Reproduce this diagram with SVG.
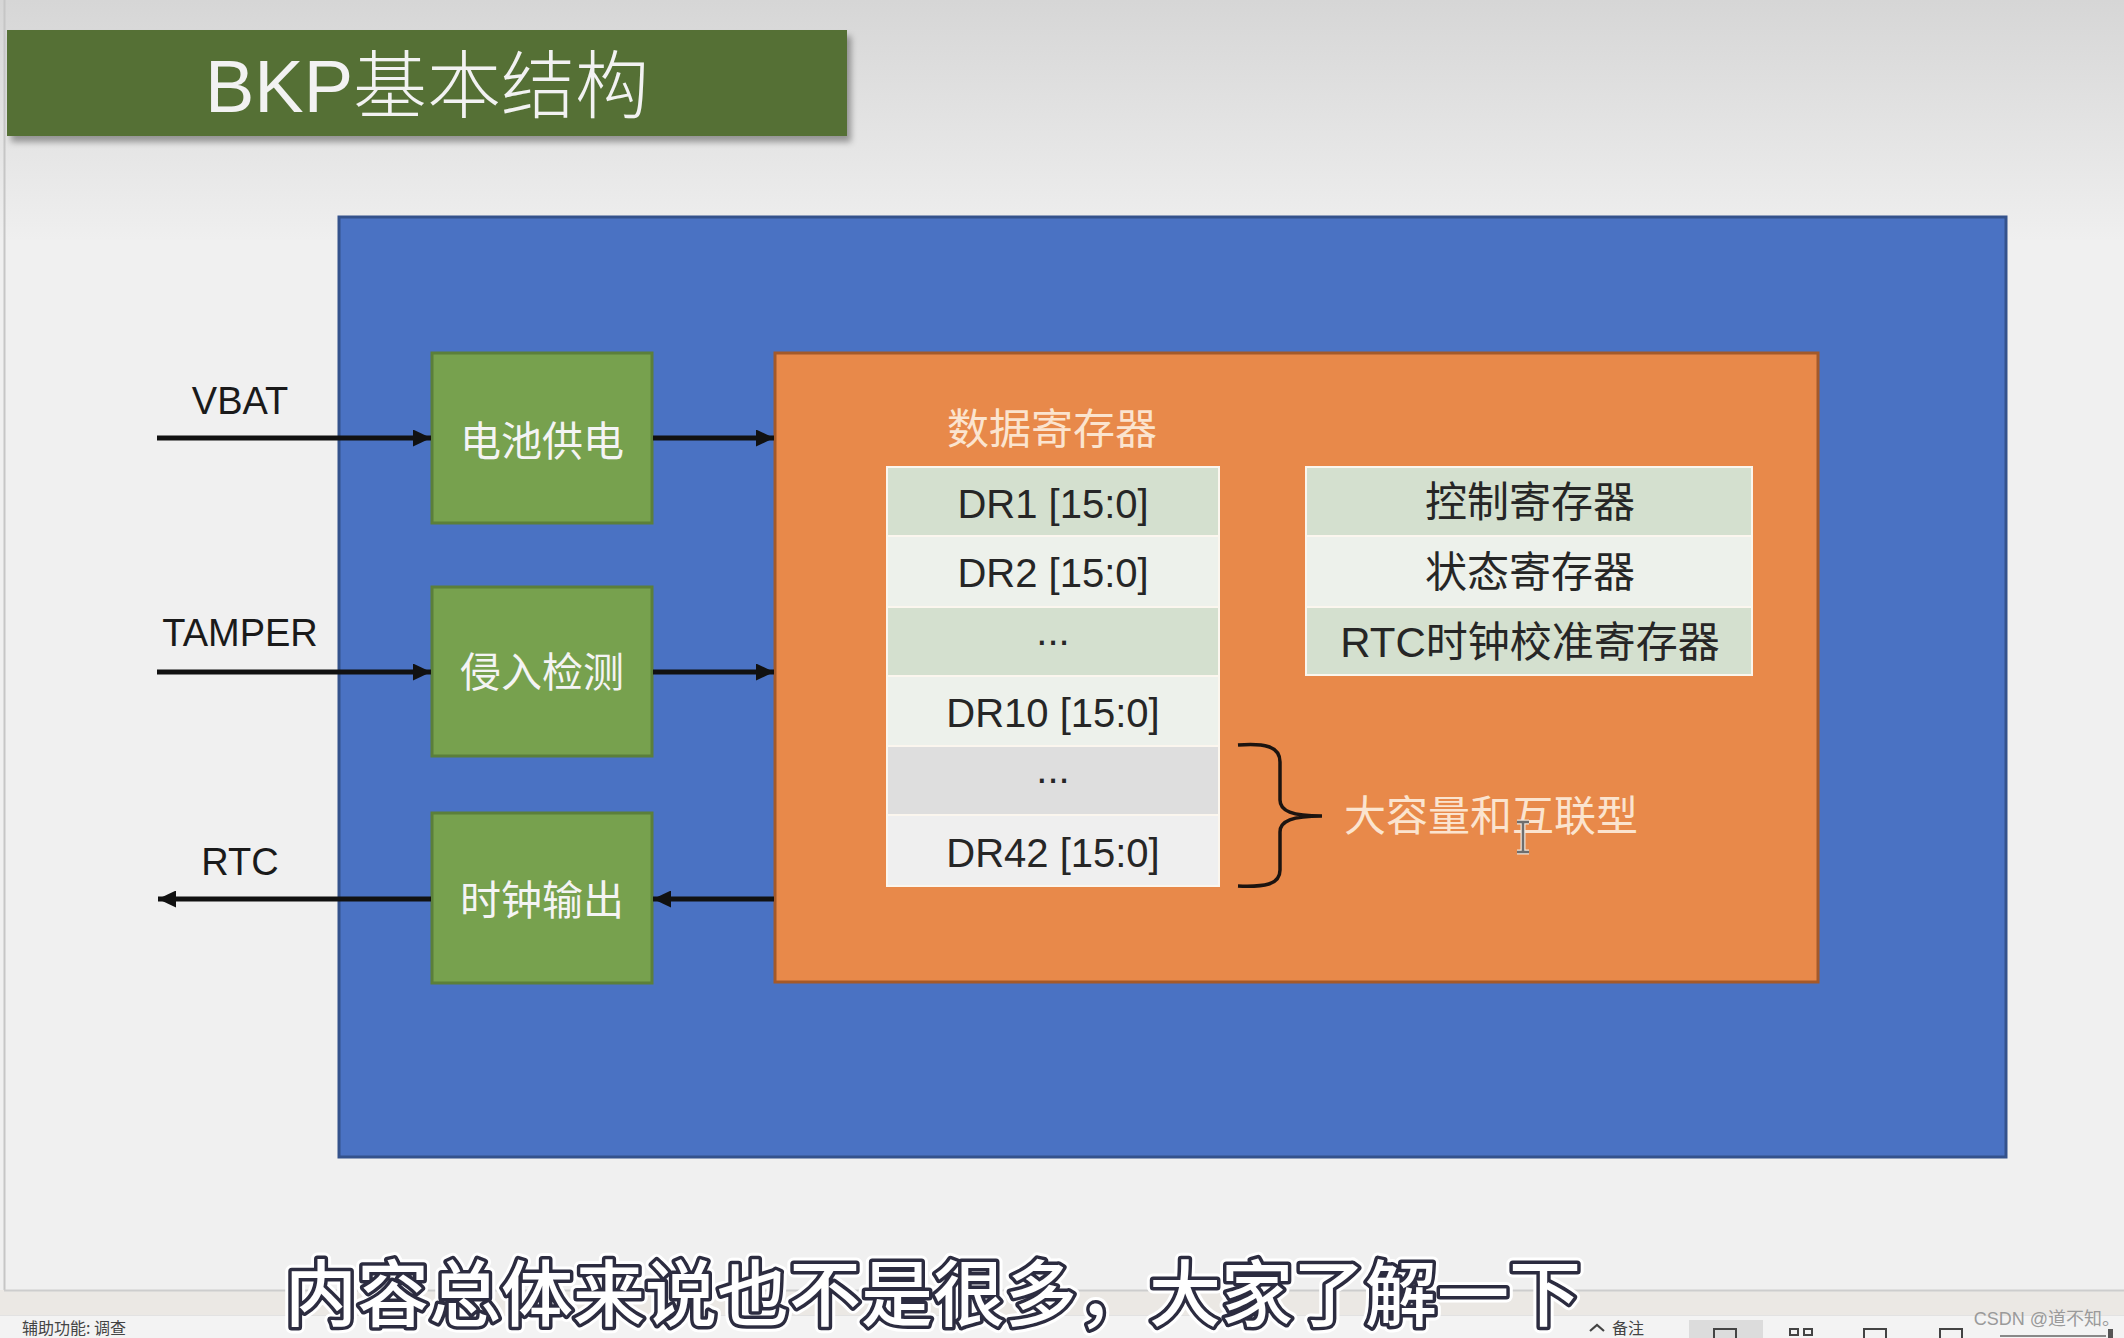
<svg xmlns="http://www.w3.org/2000/svg" width="2124" height="1338" viewBox="0 0 2124 1338">
<defs>
<style>
.f{font-family:"Liberation Sans","Noto Sans CJK SC",sans-serif}
.lbl{font-size:38px;fill:#1a1a1a;text-anchor:middle}
.gtxt{font-size:41px;fill:#f4f4f4;text-anchor:middle}
.ptxt{font-size:42px;fill:#fbe4cf}
.rtxt{font-size:40px;fill:#262626;text-anchor:middle}
.ctxt{font-size:42px;fill:#262626;text-anchor:middle}
.gbox{fill:#77a14e;stroke:#5b7f3a;stroke-width:3}
.conn{stroke:#111;stroke-width:5;fill:none;marker-end:url(#arrow)}
.rowA{fill:#d4e0cf}
.rowB{fill:#edf1eb}
.sub{font-family:"Noto Sans CJK SC",sans-serif;font-size:72px;font-weight:500}
.status{font-family:"Noto Sans CJK SC",sans-serif;font-size:16px;fill:#444}
</style>
<linearGradient id="bg" x1="0" y1="0" x2="0" y2="240" gradientUnits="userSpaceOnUse">
<stop offset="0" stop-color="#d6d6d6"/>
<stop offset="1" stop-color="#efefef"/>
</linearGradient>
<filter id="shadow" x="-5%" y="-20%" width="115%" height="150%">
<feDropShadow dx="4" dy="6" stdDeviation="3" flood-color="#000" flood-opacity="0.35"/>
</filter>
<marker id="arrow" viewBox="0 0 18 17" refX="18" refY="8.5" markerWidth="18" markerHeight="17" markerUnits="userSpaceOnUse" orient="auto">
<path d="M0,0 L18,8.5 L0,17 Z" fill="#111"/>
</marker>
</defs>

<g id="background">
<rect x="0" y="0" width="2124" height="1338" fill="#f0f0f0"/>
<rect x="0" y="0" width="2124" height="240" fill="url(#bg)"/>
<line x1="4.5" y1="0" x2="4.5" y2="1290" stroke="#c6c6c6" stroke-width="2"/>
<rect x="0" y="1290" width="2124" height="25" fill="#ebe8e4"/>
<line x1="4" y1="1290.5" x2="2124" y2="1290.5" stroke="#cdcdcd" stroke-width="2"/>
<rect x="0" y="1315" width="2124" height="23" fill="#f3f3f3"/>
<line x1="0" y1="1315.5" x2="2124" y2="1315.5" stroke="#e2e2e2" stroke-width="1"/>
</g>

<g id="title">
<rect x="7" y="30" width="840" height="106" fill="#546f35" filter="url(#shadow)"/>
<text class="f" x="427" y="112" font-size="74" font-weight="300" fill="#f2f2f2" text-anchor="middle">BKP基本结构</text>
</g>

<g id="bkp-block">
<rect x="339" y="217" width="1667" height="940" fill="#4a72c3" stroke="#34528c" stroke-width="3"/>
</g>

<g id="node-battery">
<rect class="gbox" x="432" y="353" width="220" height="170"/>
<text class="f gtxt" x="542" y="456">电池供电</text>
</g>

<g id="node-tamper">
<rect class="gbox" x="432" y="587" width="220" height="169"/>
<text class="f gtxt" x="542" y="687">侵入检测</text>
</g>

<g id="node-clockout">
<rect class="gbox" x="432" y="813" width="220" height="170"/>
<text class="f gtxt" x="542" y="915">时钟输出</text>
</g>

<g id="node-registers">
<rect x="775" y="353" width="1043" height="629" fill="#e8894a" stroke="#a3592a" stroke-width="3"/>
<text class="f ptxt" x="1052" y="444" text-anchor="middle">数据寄存器</text>
</g>

<g id="node-data-registers">
<rect x="886" y="466" width="334" height="421" fill="#fbf6ee"/>
<rect class="rowA" x="888" y="468" width="330" height="67"/>
<rect class="rowB" x="888" y="537" width="330" height="69"/>
<rect class="rowA" x="888" y="608" width="330" height="67"/>
<rect class="rowB" x="888" y="677" width="330" height="68"/>
<rect x="888" y="747" width="330" height="67" fill="#dedede"/>
<rect x="888" y="816" width="330" height="69" fill="#efefef"/>
<text class="f rtxt" x="1053" y="518">DR1 [15:0]</text>
<text class="f rtxt" x="1053" y="587">DR2 [15:0]</text>
<text class="f rtxt" x="1053" y="645">...</text>
<text class="f rtxt" x="1053" y="727">DR10 [15:0]</text>
<text class="f rtxt" x="1053" y="783">...</text>
<text class="f rtxt" x="1053" y="867">DR42 [15:0]</text>
</g>

<g id="node-control-registers">
<rect x="1305" y="466" width="448" height="210" fill="#fbf6ee"/>
<rect class="rowA" x="1307" y="468" width="444" height="67"/>
<rect class="rowB" x="1307" y="537" width="444" height="69"/>
<rect class="rowA" x="1307" y="608" width="444" height="66"/>
<text class="f ctxt" x="1530" y="517">控制寄存器</text>
<text class="f ctxt" x="1530" y="587">状态寄存器</text>
<text class="f ctxt" x="1530" y="657">RTC时钟校准寄存器</text>
</g>

<g id="brace-label">
<path d="M1238,745 C1264,743 1280,746 1280,762 L1280,800 C1280,811 1292,816 1322,816 C1292,816 1280,821 1280,832 L1280,870 C1280,885 1264,887 1238,886" fill="none" stroke="#1c1410" stroke-width="3.5"/>
<text class="f ptxt" x="1344" y="831">大容量和互联型</text>
</g>

<g id="connectors">
<text class="f lbl" x="240" y="414">VBAT</text>
<text class="f lbl" x="240" y="646">TAMPER</text>
<text class="f lbl" x="240" y="875">RTC</text>
<line class="conn" x1="157" y1="438" x2="431" y2="438"/>
<line class="conn" x1="653" y1="438" x2="774" y2="438"/>
<line class="conn" x1="157" y1="672" x2="431" y2="672"/>
<line class="conn" x1="653" y1="672" x2="774" y2="672"/>
<line class="conn" x1="774" y1="899" x2="653" y2="899"/>
<line class="conn" x1="431" y1="899" x2="158" y2="899"/>
</g>

<g id="cursor">
<path d="M1517,822 h12 M1523,822 v30 M1517,852 h12" fill="none" stroke="#f2e6da" stroke-width="5"/>
<path d="M1517,822 h12 M1523,822 v30 M1517,852 h12" fill="none" stroke="#6e6e6e" stroke-width="2.5"/>
</g>

<g id="statusbar">
<text class="status" x="22" y="1334">辅助功能: 调查</text>
<path d="M1590,1331 l7,-6 l7,6" fill="none" stroke="#444" stroke-width="2.2"/>
<text class="status" x="1612" y="1334">备注</text>
<rect x="1689" y="1320" width="74" height="18" fill="#dcdcdc"/>
<rect x="1714" y="1329" width="22" height="14" fill="none" stroke="#444" stroke-width="2"/>
<rect x="1790" y="1329" width="8" height="6" fill="none" stroke="#444" stroke-width="2"/>
<rect x="1804" y="1329" width="8" height="6" fill="none" stroke="#444" stroke-width="2"/>
<rect x="1864" y="1329" width="22" height="14" fill="none" stroke="#444" stroke-width="2"/>
<rect x="1940" y="1329" width="22" height="14" fill="none" stroke="#444" stroke-width="2"/>
<line x1="2000" y1="1336" x2="2106" y2="1336" stroke="#888" stroke-width="2"/>
<rect x="2108" y="1329" width="5" height="9" fill="#555"/>
<text x="2120" y="1325" font-family="Liberation Sans, Noto Sans CJK SC, sans-serif" font-size="18" fill="#9a9a9a" text-anchor="end">CSDN @道不知。</text>
</g>

<g id="subtitle">
<text class="sub" x="285" y="1320" fill="none" stroke="#ffffff" stroke-width="13" stroke-linejoin="round">内容总体来说也不是很多，大家了解一下</text>
<text class="sub" x="285" y="1320" fill="#ffffff" stroke="#2c2c40" stroke-width="7" stroke-linejoin="round" paint-order="stroke fill">内容总体来说也不是很多，大家了解一下</text>
</g>
</svg>
